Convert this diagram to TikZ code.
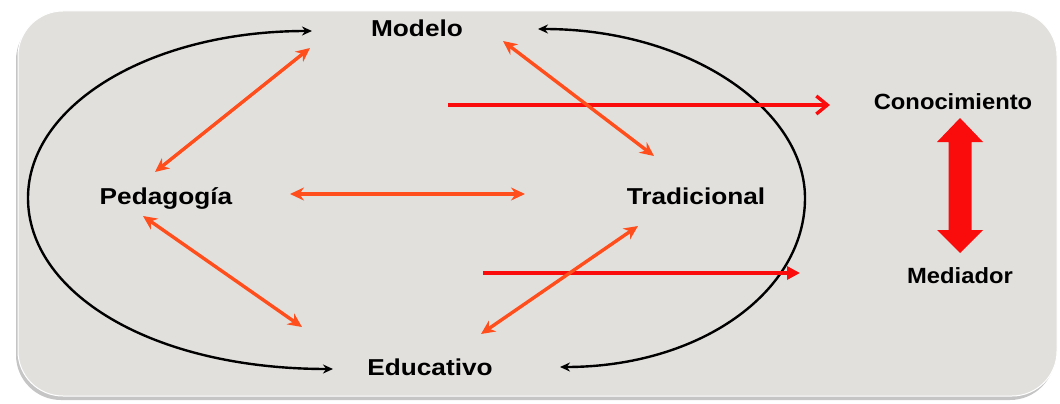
\documentclass[tikz,border=0pt]{standalone}
\usepackage{fontspec}
\setmainfont{Liberation Sans}
\newfontfamily\labA[FakeStretch=1.14]{Liberation Sans}
\newfontfamily\labB[FakeStretch=1.08]{Liberation Sans}
\usetikzlibrary{arrows.meta,calc,shadows}
\definecolor{panel}{RGB}{226,224,221}
\definecolor{orng}{RGB}{255,78,28}
\definecolor{rd}{RGB}{250,12,12}
\tikzset{
  lab/.style={font=\labA\bfseries\fontsize{23}{27}\selectfont, text=black, inner sep=0pt, anchor=base},
  labr/.style={font=\labB\bfseries\fontsize{22}{26}\selectfont, text=black, inner sep=0pt, anchor=base},
  dbl/.style={draw=orng, line width=3.4pt, {Stealth[length=14pt,width=13pt]}-{Stealth[length=14pt,width=13pt]}},
  loop/.style={draw=black, line width=2.4pt, {Stealth[length=10pt,width=9pt]}-{Stealth[length=10pt,width=9pt]}},
  redA/.style={draw=rd, line width=3.4pt, -{Straight Barb[length=11pt,width=18pt,line width=3.4pt]}},
  redB/.style={draw=rd, line width=3.4pt, -{Triangle[length=13pt,width=13pt]}},
}
\begin{document}
\begin{tikzpicture}[x=1pt,y=-1pt]
\useasboundingbox (0,0) rectangle (1060,404);
% panel
\fill[white] (0,0) rectangle (1060,404);
\filldraw[fill=panel, draw=white, line width=1pt, rounded corners=45pt,
  drop shadow={shadow xshift=-2pt, shadow yshift=-4pt, opacity=0.45}]
  (18,11) rectangle (1057,396);
% labels
\node[lab] (M) at (417,37) {Modelo};
\node[lab] (P) at (166,204) {Pedagogía};
\node[lab] (T) at (696,204) {Tradicional};
\node[lab] (E) at (430,375) {Educativo};
\node[labr] (C) at (953,109) {Conocimiento};
\node[labr] (D) at (960,283) {Mediador};
% black loops
\draw[loop] ($(M.base)+(-105,-6)$) .. controls (150,31) and (28,105) .. (28,198)
  .. controls (28,292) and (150,369) .. ($(E.base)+(-97,-6)$);
\draw[loop] ($(M.base)+(121,-8)$) .. controls (690,29) and (805,110) .. (805,198)
  .. controls (805,292) and (700,367) .. ($(E.base)+(130,-8)$);
% red straight arrows
\draw[redA] ($(M.base)+(31,68)$) -- ($(C.base)+(-123,-4)$);
\draw[redB] ($(E.base)+(53,-102)$) -- ($(D.base)+(-160,-10)$);
% orange double arrows
\draw[dbl] ($(M.base)+(-107,11)$) -- ($(P.base)+(-11,-32)$);
\draw[dbl] ($(P.base)+(-23,12)$) -- ($(E.base)+(-128,-48)$);
\draw[dbl] ($(P.base)+(124,-10)$) -- ($(T.base)+(-171,-10)$);
\draw[dbl] ($(M.base)+(86,4)$) -- ($(T.base)+(-42,-48)$);
\draw[dbl] ($(T.base)+(-58,22)$) -- ($(E.base)+(51,-41)$);
% big double arrow
\coordinate (BT) at ($(C.base)+(7,9)$);
\coordinate (BB) at ($(D.base)+(0,-30)$);
\fill[rd] (BT) -- ($(BT)+(23,24)$) -- ($(BT)+(11.5,24)$) -- ($(BB)+(11.5,-23)$)
  -- ($(BB)+(23,-23)$) -- (BB) -- ($(BB)+(-23,-23)$) -- ($(BB)+(-11.5,-23)$)
  -- ($(BT)+(-11.5,24)$) -- ($(BT)+(-23,24)$) -- cycle;
\end{tikzpicture}
\end{document}
